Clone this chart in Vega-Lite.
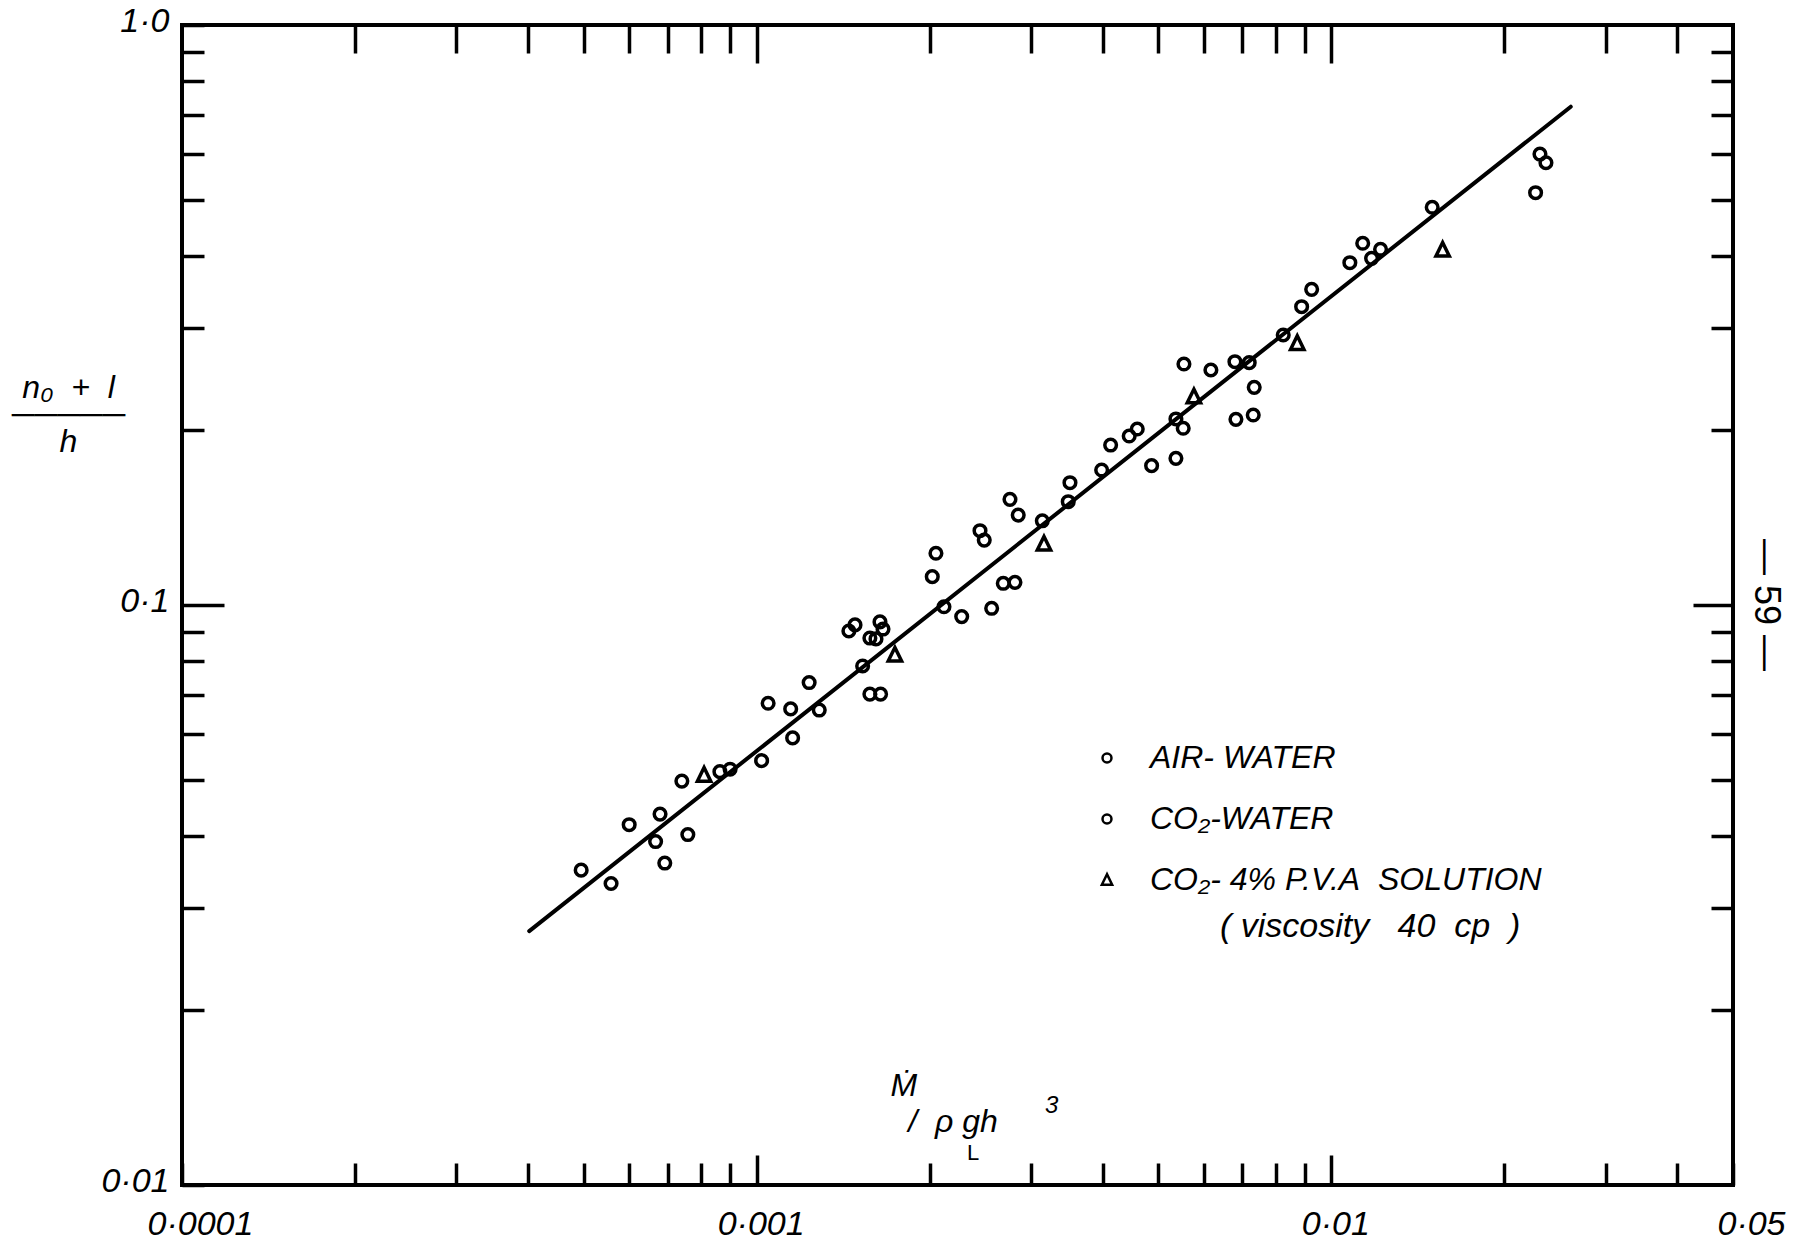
{
  "$schema": "https://vega.github.io/schema/vega-lite/v6.json",
  "width": 1551,
  "height": 1160,
  "autosize": {"type": "none"},
  "padding": {"left": 182, "top": 25, "right": 62, "bottom": 60},
  "background": "white",
  "config": {
    "view": {"stroke": "black", "strokeWidth": 4},
    "font": "Liberation Sans",
    "axis": {
      "domain": false,
      "grid": false,
      "tickColor": "black",
      "tickWidth": 3.5,
      "labelColor": "black",
      "labelFont": "Liberation Sans",
      "labelFontStyle": "italic",
      "titleFont": "Liberation Sans",
      "titleColor": "black",
      "titleFontStyle": "italic",
      "titleFontWeight": "normal",
      "labelFlush": false,
      "labelOverlap": false
    }
  },
  "datasets": {
    "fit": [
      {"x": 0.000402, "y": 0.0274},
      {"x": 0.0261, "y": 0.723}
    ],
    "points": [
      {"x": 0.000495, "y": 0.0349, "series": "AIR-WATER"},
      {"x": 0.000558, "y": 0.0331, "series": "AIR-WATER"},
      {"x": 0.000600, "y": 0.0418, "series": "AIR-WATER"},
      {"x": 0.000679, "y": 0.0436, "series": "AIR-WATER"},
      {"x": 0.000667, "y": 0.0391, "series": "AIR-WATER"},
      {"x": 0.000692, "y": 0.0359, "series": "AIR-WATER"},
      {"x": 0.000741, "y": 0.0497, "series": "AIR-WATER"},
      {"x": 0.000863, "y": 0.0516, "series": "AIR-WATER"},
      {"x": 0.000899, "y": 0.0521, "series": "AIR-WATER"},
      {"x": 0.00102, "y": 0.0539, "series": "AIR-WATER"},
      {"x": 0.001047, "y": 0.0677, "series": "AIR-WATER"},
      {"x": 0.001146, "y": 0.0662, "series": "AIR-WATER"},
      {"x": 0.001155, "y": 0.0590, "series": "AIR-WATER"},
      {"x": 0.001234, "y": 0.0735, "series": "AIR-WATER"},
      {"x": 0.001285, "y": 0.0659, "series": "AIR-WATER"},
      {"x": 0.001529, "y": 0.0785, "series": "AIR-WATER"},
      {"x": 0.001447, "y": 0.0902, "series": "AIR-WATER"},
      {"x": 0.001483, "y": 0.0924, "series": "AIR-WATER"},
      {"x": 0.001574, "y": 0.0877, "series": "AIR-WATER"},
      {"x": 0.001639, "y": 0.0935, "series": "AIR-WATER"},
      {"x": 0.001659, "y": 0.0909, "series": "AIR-WATER"},
      {"x": 0.001574, "y": 0.0702, "series": "AIR-WATER"},
      {"x": 0.001643, "y": 0.0702, "series": "AIR-WATER"},
      {"x": 0.002118, "y": 0.0993, "series": "AIR-WATER"},
      {"x": 0.002274, "y": 0.0955, "series": "AIR-WATER"},
      {"x": 0.002564, "y": 0.0987, "series": "AIR-WATER"},
      {"x": 0.002686, "y": 0.1090, "series": "AIR-WATER"},
      {"x": 0.002815, "y": 0.1094, "series": "AIR-WATER"},
      {"x": 0.002021, "y": 0.1119, "series": "AIR-WATER"},
      {"x": 0.002051, "y": 0.1228, "series": "AIR-WATER"},
      {"x": 0.002447, "y": 0.1343, "series": "AIR-WATER"},
      {"x": 0.002489, "y": 0.1294, "series": "AIR-WATER"},
      {"x": 0.002759, "y": 0.1521, "series": "AIR-WATER"},
      {"x": 0.002852, "y": 0.1429, "series": "AIR-WATER"},
      {"x": 0.003141, "y": 0.1397, "series": "AIR-WATER"},
      {"x": 0.003509, "y": 0.1625, "series": "AIR-WATER"},
      {"x": 0.003984, "y": 0.1709, "series": "AIR-WATER"},
      {"x": 0.00413, "y": 0.1887, "series": "AIR-WATER"},
      {"x": 0.004449, "y": 0.1956, "series": "AIR-WATER"},
      {"x": 0.004595, "y": 0.2011, "series": "AIR-WATER"},
      {"x": 0.004867, "y": 0.1739, "series": "AIR-WATER"},
      {"x": 0.005365, "y": 0.1790, "series": "AIR-WATER"},
      {"x": 0.005365, "y": 0.2093, "series": "AIR-WATER"},
      {"x": 0.005524, "y": 0.2017, "series": "AIR-WATER"},
      {"x": 0.00554, "y": 0.2603, "series": "AIR-WATER"},
      {"x": 0.006823, "y": 0.2090, "series": "AIR-WATER"},
      {"x": 0.007313, "y": 0.2126, "series": "AIR-WATER"},
      {"x": 0.007342, "y": 0.2373, "series": "AIR-WATER"},
      {"x": 0.006796, "y": 0.2627, "series": "AIR-WATER"},
      {"x": 0.007196, "y": 0.2617, "series": "AIR-WATER"},
      {"x": 0.008247, "y": 0.2921, "series": "AIR-WATER"},
      {"x": 0.008878, "y": 0.3268, "series": "AIR-WATER"},
      {"x": 0.009242, "y": 0.3501, "series": "AIR-WATER"},
      {"x": 0.01077, "y": 0.3892, "series": "AIR-WATER"},
      {"x": 0.01134, "y": 0.4204, "series": "AIR-WATER"},
      {"x": 0.01218, "y": 0.4105, "series": "AIR-WATER"},
      {"x": 0.01498, "y": 0.4850, "series": "AIR-WATER"},
      {"x": 0.02307, "y": 0.5991, "series": "AIR-WATER"},
      {"x": 0.02363, "y": 0.5788, "series": "AIR-WATER"},
      {"x": 0.02267, "y": 0.5139, "series": "AIR-WATER"},
      {"x": 0.000759, "y": 0.0402, "series": "CO\u2082-WATER"},
      {"x": 0.001613, "y": 0.0874, "series": "CO\u2082-WATER"},
      {"x": 0.003485, "y": 0.1507, "series": "CO\u2082-WATER"},
      {"x": 0.006172, "y": 0.2542, "series": "CO\u2082-WATER"},
      {"x": 0.01175, "y": 0.3960, "series": "CO\u2082-WATER"},
      {"x": 0.000810, "y": 0.0509, "series": "CO\u2082-4% P.V.A SOLUTION"},
      {"x": 0.00174, "y": 0.0820, "series": "CO\u2082-4% P.V.A SOLUTION"},
      {"x": 0.003162, "y": 0.1274, "series": "CO\u2082-4% P.V.A SOLUTION"},
      {"x": 0.005766, "y": 0.2286, "series": "CO\u2082-4% P.V.A SOLUTION"},
      {"x": 0.008724, "y": 0.2826, "series": "CO\u2082-4% P.V.A SOLUTION"},
      {"x": 0.01562, "y": 0.4093, "series": "CO\u2082-4% P.V.A SOLUTION"}
    ]
  },
  "layer": [
    {
      "data": {"name": "fit"},
      "mark": {"type": "line", "color": "black", "strokeWidth": 4, "strokeCap": "round"},
      "encoding": {
        "x": {
          "field": "x", "type": "quantitative",
          "scale": {"type": "log", "domain": [0.0001, 0.05], "nice": false},
          "axis": {
            "orient": "bottom",
            "values": [0.0001, 0.0002, 0.0003, 0.0004, 0.0005, 0.0006, 0.0007, 0.0008, 0.0009, 0.001, 0.002, 0.003, 0.004, 0.005, 0.006, 0.007, 0.008, 0.009, 0.01, 0.02, 0.03, 0.04, 0.05],
            "tickSize": {"condition": {"test": "datum.value == 0.001 || datum.value == 0.01", "value": -30}, "value": -22},
            "labelPadding": {"condition": {"test": "datum.value == 0.001 || datum.value == 0.01", "value": 52}, "value": 44},
            "labelOffset": {"condition": {"test": "datum.value == 0.0001 || datum.value == 0.05", "value": 18}, "value": 4},
            "labelBaseline": "top",
            "labelFontSize": 34,
            "labelExpr": "datum.value == 0.0001 ? '0\u00b70001' : datum.value == 0.001 ? '0\u00b7001' : datum.value == 0.01 ? '0\u00b701' : datum.value == 0.05 ? '0\u00b705' : ''",
            "title": ["\u1e40", "\u200b\u00a0\u00a0/\u00a0\u00a0\u03c1\u00a0gh"],
            "titleX": 708,
            "titleY": -90,
            "titleAlign": "left",
            "titleBaseline": "alphabetic",
            "titleFontSize": 32,
            "titleLineHeight": 36
          }
        },
        "y": {
          "field": "y", "type": "quantitative",
          "scale": {"type": "log", "domain": [0.01, 1], "nice": false},
          "axis": {
            "orient": "left",
            "values": [0.01, 0.02, 0.03, 0.04, 0.05, 0.06, 0.07, 0.08, 0.09, 0.1, 0.2, 0.3, 0.4, 0.5, 0.6, 0.7, 0.8, 0.9, 1],
            "tickSize": {"condition": {"test": "datum.value == 0.1", "value": -42}, "value": -22},
            "labelPadding": {"condition": {"test": "datum.value == 0.1", "value": 55}, "value": 35},
            "labelOffset": -4,
            "labelFontSize": 34,
            "labelExpr": "datum.value == 0.01 ? '0\u00b701' : datum.value == 0.1 ? '0\u00b71' : datum.value == 1 ? '1\u00b70' : ''",
            "title": ["n\u2080 \u00a0+\u00a0 l", "\u2500\u2500\u2500\u2500\u2500", "h"],
            "titleAngle": 0,
            "titleX": -114,
            "titleY": 372,
            "titleAlign": "center",
            "titleBaseline": "alphabetic",
            "titleFontSize": 32,
            "titleLineHeight": 27
          }
        }
      }
    },
    {
      "data": {"name": "points"},
      "mark": {"type": "point", "filled": false, "color": "black", "strokeWidth": 3.5, "opacity": 1, "size": 135},
      "encoding": {
        "x": {
          "field": "x", "type": "quantitative",
          "axis": {
            "orient": "top",
            "values": [0.0002, 0.0003, 0.0004, 0.0005, 0.0006, 0.0007, 0.0008, 0.0009, 0.001, 0.002, 0.003, 0.004, 0.005, 0.006, 0.007, 0.008, 0.009, 0.01, 0.02, 0.03, 0.04],
            "tickSize": {"condition": {"test": "datum.value == 0.001 || datum.value == 0.01", "value": -38}, "value": -28},
            "labels": false,
            "title": null
          }
        },
        "y": {
          "field": "y", "type": "quantitative",
          "axis": {
            "orient": "right",
            "values": [0.02, 0.03, 0.04, 0.05, 0.06, 0.07, 0.08, 0.09, 0.1, 0.2, 0.3, 0.4, 0.5, 0.6, 0.7, 0.8, 0.9],
            "tickSize": {"condition": {"test": "datum.value == 0.1", "value": -40}, "value": -22},
            "labels": false,
            "title": null
          }
        },
        "shape": {
          "field": "series", "type": "nominal",
          "scale": {
            "domain": ["AIR-WATER", "CO\u2082-WATER", "CO\u2082-4% P.V.A SOLUTION"],
            "range": ["circle", "circle", "M0,-1.3L-1.15,1.05L1.15,1.05Z"]
          },
          "legend": {
            "orient": "none",
            "legendX": 909,
            "legendY": 717,
            "title": null,
            "labelFont": "Liberation Sans",
            "labelFontSize": 32,
            "labelFontStyle": "italic",
            "labelColor": "black",
            "labelLimit": 1000,
            "labelOffset": 27,
            "rowPadding": 29,
            "symbolSize": 80,
            "symbolStrokeWidth": 2.5,
            "symbolStrokeColor": "black",
            "symbolFillColor": "transparent",
            "labelExpr": "datum.label == 'CO\u2082-4% P.V.A SOLUTION' ? 'CO\u2082- 4% P.V.A\u00a0\u00a0SOLUTION' : datum.label == 'AIR-WATER' ? 'AIR- WATER' : datum.label"
          }
        }
      }
    },
    {
      "data": {"values": [{"label": "(\u00a0viscosity\u00a0\u00a0\u00a040\u00a0\u00a0cp\u00a0\u00a0)"}]},
      "mark": {"type": "text", "fontSize": 34, "font": "Liberation Sans", "fontStyle": "italic", "color": "black", "align": "left", "baseline": "alphabetic"},
      "encoding": {
        "text": {"field": "label"},
        "x": {"datum": 0.0064, "type": "quantitative", "axis": null},
        "y": {"datum": 0.02677, "type": "quantitative", "axis": null}
      }
    },
    {
      "data": {"values": [{"label": "\u2014 59 \u2014"}]},
      "mark": {"type": "text", "angle": 90, "fontSize": 36, "font": "Liberation Sans", "color": "black", "align": "center", "baseline": "middle"},
      "encoding": {
        "text": {"field": "label"},
        "x": {"datum": 0.057, "type": "quantitative", "axis": null},
        "y": {"datum": 0.1, "type": "quantitative", "axis": null}
      }
    },
    {
      "data": {"values": [{"label": "L"}]},
      "mark": {"type": "text", "fontSize": 22, "font": "Liberation Sans", "color": "black", "align": "left", "baseline": "alphabetic"},
      "encoding": {
        "text": {"field": "label"},
        "x": {"datum": 0.002322, "type": "quantitative", "axis": null},
        "y": {"datum": 0.01104, "type": "quantitative", "axis": null}
      }
    },
    {
      "data": {"values": [{"label": "3"}]},
      "mark": {"type": "text", "fontSize": 24, "font": "Liberation Sans", "fontStyle": "italic", "color": "black", "align": "left", "baseline": "alphabetic"},
      "encoding": {
        "text": {"field": "label"},
        "x": {"datum": 0.003175, "type": "quantitative", "axis": null},
        "y": {"datum": 0.01331, "type": "quantitative", "axis": null}
      }
    }
  ],
  "resolve": {
    "scale": {"x": "shared", "y": "shared"},
    "axis": {"x": "independent", "y": "independent"}
  }
}
